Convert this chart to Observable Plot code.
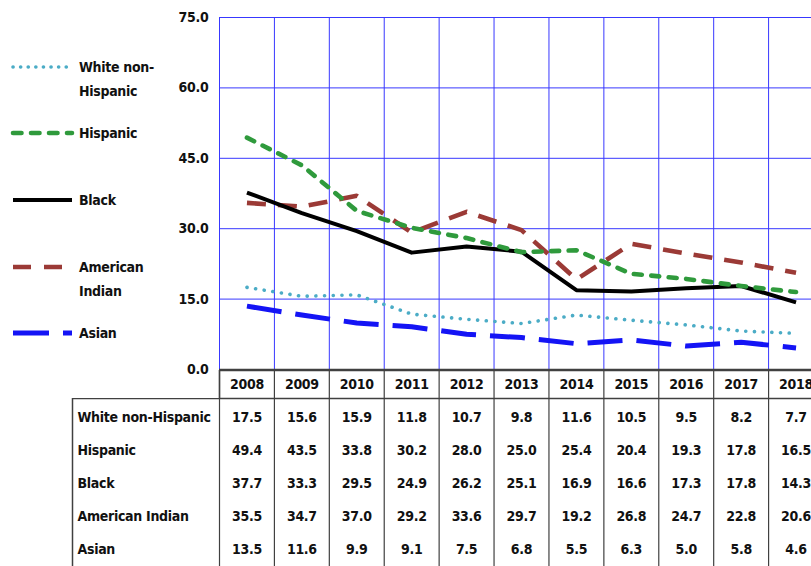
<!DOCTYPE html>
<html>
<head>
<meta charset="utf-8">
<script src="https://cdn.jsdelivr.net/npm/d3@7"></script>
<script src="https://cdn.jsdelivr.net/npm/@observablehq/plot@0.6"></script>
<style>
  html, body { margin: 0; padding: 0; overflow: hidden; background: #fff; }
  #wrap { position: relative; width: 823px; height: 566px; overflow: hidden; background: #fff; }
  #wrap svg { display: block; }
  #legend { position: absolute; left: 0; top: 0; }
  .f { font-family: "DejaVu Sans Condensed", "DejaVu Sans", sans-serif; font-stretch: condensed; font-weight: bold; letter-spacing: -0.3px; }
</style>
</head>
<body>
<div id="wrap"></div>
<script>
// ---- data ----
const years = [2008, 2009, 2010, 2011, 2012, 2013, 2014, 2015, 2016, 2017, 2018];
const groups = ["White non-Hispanic", "Hispanic", "Black", "American Indian", "Asian"];
const whiteNonHispanic = [17.5, 15.6, 15.9, 11.8, 10.7, 9.8, 11.6, 10.5, 9.5, 8.2, 7.7];
const hispanic = [49.4, 43.5, 33.8, 30.2, 28.0, 25.0, 25.4, 20.4, 19.3, 17.8, 16.5];
const black = [37.7, 33.3, 29.5, 24.9, 26.2, 25.1, 16.9, 16.6, 17.3, 17.8, 14.3];
const americanIndian = [35.5, 34.7, 37.0, 29.2, 33.6, 29.7, 19.2, 26.8, 24.7, 22.8, 20.6];
const asian = [13.5, 11.6, 9.9, 9.1, 7.5, 6.8, 5.5, 6.3, 5.0, 5.8, 4.6];
const yTicks = [0, 15, 30, 45, 60, 75];

const seriesValues = [whiteNonHispanic, hispanic, black, americanIndian, asian];
const styles = {
  "White non-Hispanic": {stroke: "#4bacc6", strokeWidth: 3.6, strokeDasharray: "0.1,8.6", strokeLinecap: "round"},
  "Hispanic": {stroke: "#2f9a3c", strokeWidth: 4.6, strokeDasharray: "8,9.5", strokeLinecap: "round"},
  "Black": {stroke: "#000000", strokeWidth: 4, strokeDasharray: null, strokeLinecap: "butt"},
  "American Indian": {stroke: "#9b3a36", strokeWidth: 4.6, strokeDasharray: "19,12", strokeLinecap: "butt"},
  "Asian": {stroke: "#1414f5", strokeWidth: 5, strokeDasharray: "35,14", strokeLinecap: "butt"}
};
const legendLabels = {
  "White non-Hispanic": ["White non-", "Hispanic"],
  "Hispanic": ["Hispanic"],
  "Black": ["Black"],
  "American Indian": ["American", "Indian"],
  "Asian": ["Asian"]
};

const rows = groups.flatMap((g, gi) => years.map((yr, i) => ({group: g, year: yr, value: seriesValues[gi][i]})));
const bounds = years.map(d => d - 0.5).concat([years[years.length - 1] + 0.5]);
const xDomain = [bounds[0], bounds[bounds.length - 1]];
const W = 823;
const fontFamily = '"DejaVu Sans Condensed", "DejaVu Sans", sans-serif';
const font = {fontFamily, fontWeight: "bold", fontSize: "14px", fontStretch: "condensed", letterSpacing: "-0.3px", color: "#111", background: "transparent"};
const gridColor = "#3838ff";
const tableColor = "#404040";

const drawOrder = ["Asian", "American Indian", "Black", "Hispanic", "White non-Hispanic"];

const chart = Plot.plot({
  width: W, height: 370,
  marginLeft: 219, marginRight: 0, marginTop: 17, marginBottom: 1,
  style: {...font, overflow: "visible", position: "relative", zIndex: 2},
  x: {domain: xDomain, axis: null},
  y: {domain: [0, 75], ticks: yTicks, tickFormat: d => d.toFixed(1), tickSize: 0, tickPadding: 11, label: null},
  marks: [
    Plot.ruleY(yTicks.filter(d => d > 0), {stroke: gridColor, strokeWidth: 1}),
    Plot.ruleX(bounds, {stroke: gridColor, strokeWidth: 1}),
    ...drawOrder.map(g => Plot.line(rows.filter(r => r.group === g), {x: "year", y: "value", ...styles[g]})),
    Plot.ruleY([0], {stroke: tableColor, strokeWidth: 1.5})
  ]
});

const header = Plot.plot({
  width: W, height: 28,
  marginLeft: 219, marginRight: 0, marginTop: 0, marginBottom: 0,
  style: font,
  x: {domain: xDomain, axis: null},
  marks: [
    Plot.frame({stroke: tableColor, strokeWidth: 1.5}),
    Plot.ruleX(bounds, {stroke: tableColor, strokeWidth: 1.2}),
    Plot.text(years, {x: d => d, text: d => String(d), frameAnchor: "middle", fill: "#111"})
  ]
});

const body = Plot.plot({
  width: W, height: 180,
  marginLeft: 72, marginRight: 0, marginTop: 0, marginBottom: 0,
  style: font,
  x: {domain: xDomain, range: [219, W], axis: null},
  y: {type: "band", domain: groups, range: [0, 170], axis: null},
  marks: [
    Plot.frame({stroke: tableColor, strokeWidth: 1.5}),
    Plot.ruleX(bounds, {stroke: tableColor, strokeWidth: 1.2}),
    Plot.text(rows, {x: "year", y: "group", text: d => d.value.toFixed(1), fill: "#111"}),
    Plot.text(groups, {y: d => d, text: d => d, frameAnchor: "left", dx: 5, textAnchor: "start", fill: "#111"})
  ]
});

const wrap = document.getElementById("wrap");
wrap.append(chart, header, body);

// ---- legend (left side) ----
const legendY = {"White non-Hispanic": 67, "Hispanic": 133, "Black": 200, "American Indian": 267, "Asian": 333};
const legendDash = {"White non-Hispanic": "0.1,7.5", "Hispanic": "8.5,9.5", "Black": null, "American Indian": "18,13", "Asian": "36,14"};
const lg = d3.create("svg").attr("id", "legend").attr("width", 200).attr("height", 370).style("z-index", 3);
groups.forEach(g => {
  const s = styles[g];
  const yy = legendY[g];
  lg.append("line")
    .attr("x1", 13).attr("x2", 72)
    .attr("y1", yy).attr("y2", yy)
    .attr("stroke", s.stroke).attr("stroke-width", s.strokeWidth)
    .attr("stroke-dasharray", legendDash[g]).attr("stroke-linecap", s.strokeLinecap);
  legendLabels[g].forEach((t, i) => {
    lg.append("text").attr("class", "f").attr("x", 79).attr("y", yy + i * 24).attr("dy", "0.35em")
      .attr("font-size", 14).attr("fill", "#111").text(t);
  });
});
wrap.append(lg.node());
</script>
</body>
</html>
